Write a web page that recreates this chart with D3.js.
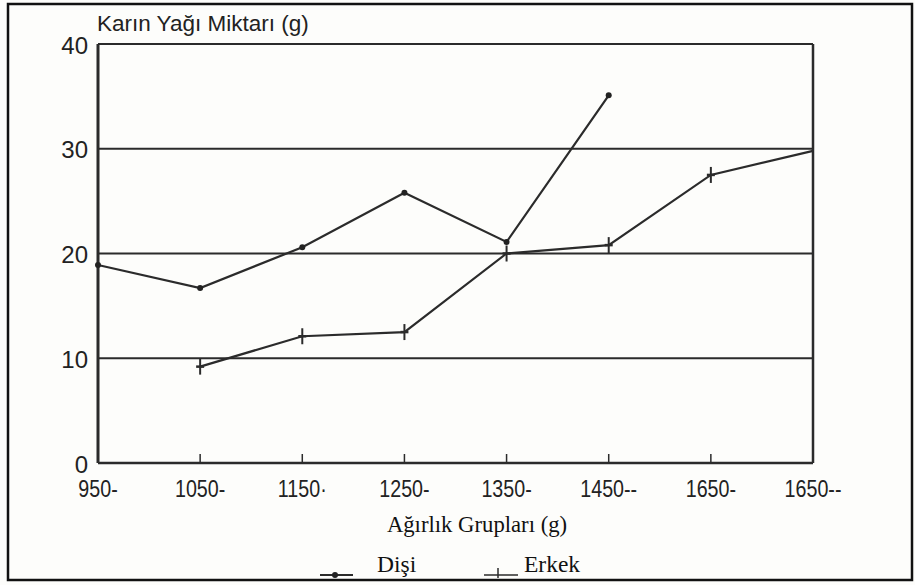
<!DOCTYPE html>
<html>
<head>
<meta charset="utf-8">
<script src="https://cdn.jsdelivr.net/npm/d3@7/dist/d3.min.js"></script>
<style>
  body { margin: 0; background: #fdfdfb; }
  svg { display: block; }
</style>
</head>
<body>
<div id="chart"></div>
<script>
// weight groups (x) and belly fat amounts (y)
var categories = ["950-", "1050-", "1150·", "1250-", "1350-", "1450--", "1650-", "1650--"];
var disi = [18.9, 16.7, 20.6, 25.8, 21.1, 35.1, null, null];
var erkek = [null, 9.2, 12.1, 12.5, 20.0, 20.8, 27.5, 29.8];
var yTicks = [0, 10, 20, 30, 40];

var width = 915, height = 585;
var ink = "#2b2b2b";
var sans = "'Liberation Sans', Arial, sans-serif";
var serif = "'Liberation Serif', 'Times New Roman', serif";

var svg = d3.select("#chart").append("svg")
    .attr("width", width).attr("height", height);

// outer frame of the scan
svg.append("rect").attr("x", 8).attr("y", 4).attr("width", 904).attr("height", 576)
    .attr("fill", "none").attr("stroke", "#111").attr("stroke-width", 2.5);

var x = d3.scalePoint().domain(categories).range([98, 813]);
var y = d3.scaleLinear().domain([0, 40]).range([463, 44]);

// horizontal lines at each 10 g
svg.selectAll("line.grid").data(yTicks.filter(function (d) { return d > 0; }))
    .enter().append("line").attr("class", "grid")
    .attr("x1", x.range()[0]).attr("x2", x.range()[1])
    .attr("y1", function (d) { return y(d); }).attr("y2", function (d) { return y(d); })
    .attr("stroke", ink).attr("stroke-width", 2.2);

// x axis line with ticks pointing up
svg.append("line").attr("x1", x.range()[0]).attr("x2", x.range()[1])
    .attr("y1", y(0)).attr("y2", y(0)).attr("stroke", ink).attr("stroke-width", 2.5);
svg.selectAll("line.xtick").data(categories.slice(1, -1)).enter().append("line")
    .attr("class", "xtick")
    .attr("x1", function (d) { return x(d); }).attr("x2", function (d) { return x(d); })
    .attr("y1", y(0)).attr("y2", y(0) - 9)
    .attr("stroke", ink).attr("stroke-width", 1.5);

// left axis and right border
svg.append("line").attr("x1", x.range()[0]).attr("x2", x.range()[0])
    .attr("y1", y(40)).attr("y2", y(0)).attr("stroke", ink).attr("stroke-width", 3);
svg.append("line").attr("x1", x.range()[1]).attr("x2", x.range()[1])
    .attr("y1", y(40)).attr("y2", y(0)).attr("stroke", ink).attr("stroke-width", 2.5);

// y tick labels
svg.selectAll("text.ylab").data(yTicks).enter().append("text")
    .attr("class", "ylab")
    .attr("x", 88).attr("y", function (d) { return y(d) + 1; })
    .attr("dy", "0.36em").attr("text-anchor", "end")
    .style("font-family", sans).style("font-size", "24px")
    .attr("fill", "#222").text(function (d) { return d; });

// x tick labels (squeezed horizontally like the narrow face of the original)
svg.selectAll("text.xlab").data(categories).enter().append("text")
    .attr("class", "xlab")
    .attr("transform", function (d) { return "translate(" + x(d) + ",497) scale(0.82,1)"; })
    .attr("text-anchor", "middle")
    .style("font-family", sans)
    .style("font-size", "24px").attr("fill", "#222").text(function (d) { return d; });

// titles
svg.append("text").attr("x", 97).attr("y", 31)
    .style("font-family", sans).style("font-size", "22.5px")
    .attr("fill", "#222").text("Karın Yağı Miktarı (g)");
svg.append("text").attr("x", 477).attr("y", 532).attr("text-anchor", "middle")
    .style("font-family", serif).style("font-size", "22.7px")
    .attr("fill", "#111").text("Ağırlık Grupları (g)");

// lines
var line = d3.line()
    .defined(function (d) { return d.v !== null; })
    .x(function (d) { return x(d.c); })
    .y(function (d) { return y(d.v); });

function rows(vals) {
    return categories.map(function (c, i) { return { c: c, v: vals[i] }; });
}

svg.append("path").datum(rows(disi)).attr("d", line)
    .attr("fill", "none").attr("stroke", ink).attr("stroke-width", 2.2);
svg.append("path").datum(rows(erkek)).attr("d", line)
    .attr("fill", "none").attr("stroke", ink).attr("stroke-width", 2.2);

// Dişi: small dots
svg.selectAll("circle.disi").data(rows(disi).filter(function (d) { return d.v !== null; }))
    .enter().append("circle").attr("class", "disi")
    .attr("cx", function (d) { return x(d.c); }).attr("cy", function (d) { return y(d.v); })
    .attr("r", 3).attr("fill", "#222");

// Erkek: crosses (no mark on the last point at the frame)
var crosses = svg.selectAll("g.erkek")
    .data(rows(erkek).filter(function (d, i) { return d.v !== null && i < categories.length - 1; }))
    .enter().append("g").attr("class", "erkek")
    .attr("transform", function (d) { return "translate(" + x(d.c) + "," + y(d.v) + ")"; });
crosses.append("line").attr("x1", 0).attr("x2", 0).attr("y1", -8).attr("y2", 8)
    .attr("stroke", ink).attr("stroke-width", 2);
crosses.append("line").attr("x1", -4).attr("x2", 4).attr("y1", 0).attr("y2", 0)
    .attr("stroke", ink).attr("stroke-width", 2.5);

// legend
var lg = svg.append("g").style("font-family", serif)
    .style("font-size", "23.5px").attr("fill", "#111");
lg.append("line").attr("x1", 320).attr("x2", 353).attr("y1", 575).attr("y2", 575)
    .attr("stroke", ink).attr("stroke-width", 2);
lg.append("circle").attr("cx", 335).attr("cy", 575).attr("r", 3).attr("fill", "#222");
lg.append("text").attr("x", 377).attr("y", 572).text("Dişi");
lg.append("line").attr("x1", 484).attr("x2", 518).attr("y1", 575).attr("y2", 575)
    .attr("stroke", ink).attr("stroke-width", 1.5);
lg.append("line").attr("x1", 498).attr("x2", 498).attr("y1", 568).attr("y2", 578)
    .attr("stroke", ink).attr("stroke-width", 1.5);
lg.append("text").attr("x", 524).attr("y", 572).text("Erkek");
</script>
</body>
</html>
